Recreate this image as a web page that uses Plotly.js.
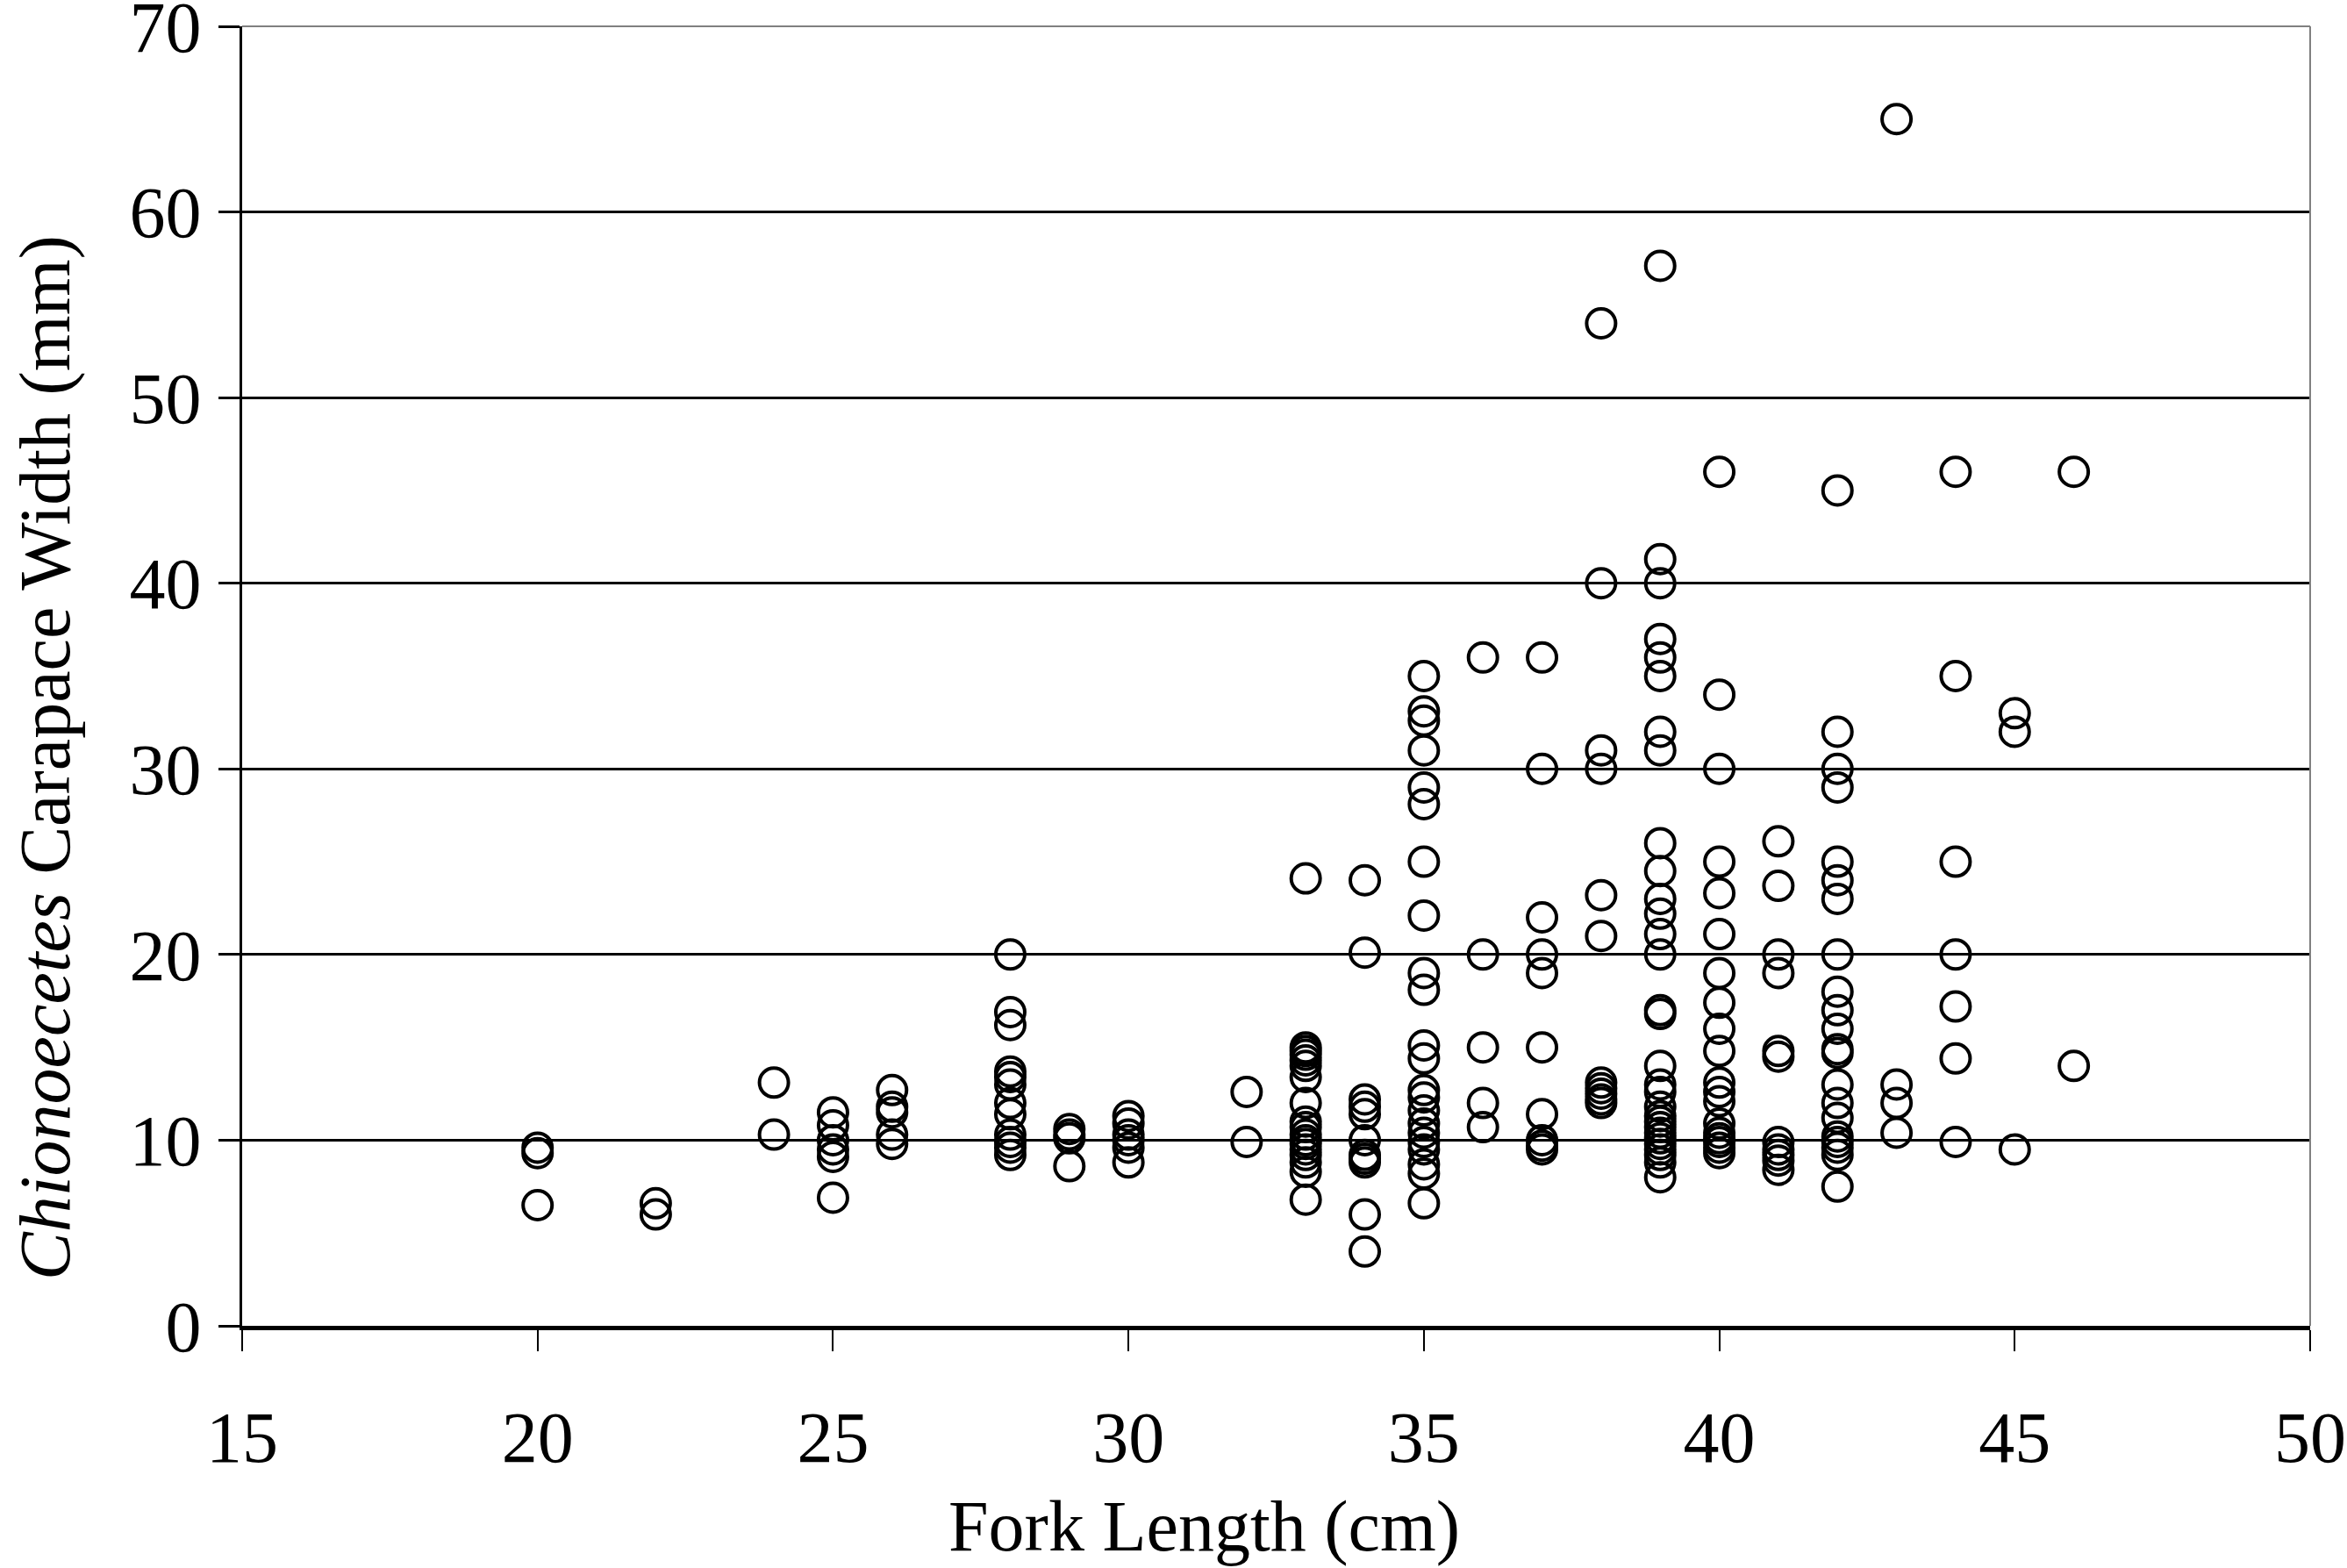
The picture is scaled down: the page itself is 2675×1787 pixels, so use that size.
<!DOCTYPE html>
<html>
<head>
<meta charset="utf-8">
<script src="https://cdn.plot.ly/plotly-3.0.1.min.js"></script>
<style>html,body{margin:0;padding:0;background:#fff;}#chart{width:2675px;height:1787px;}</style>
</head>
<body>
<div id="chart"></div>
<script>
// Fork length (cm) of each fish, paired with the carapace width (mm) of the crab found
const forkLength = [
  20,20,20,
  22,22,
  24,24,
  25,25,25,25,25,25,
  26,26,26,26,26,
  28,28,28,28,28,28,28,28,28,28,28,28,
  29,29,29,29,
  30,30,30,30,30,30,
  32,32,
  33,33,33,33,33,33,33,33,33,33,33,33,33,33,33,33,33,33,
  34,34,34,34,34,34,34,34,34,34,34,
  35,35,35,35,35,35,35,35,35,35,35,35,35,35,35,35,35,35,35,35,35,35,
  36,36,36,36,36,
  37,37,37,37,37,37,37,37,37,37,
  38,38,38,38,38,38,38,38,38,38,38,
  39,39,39,39,39,39,39,39,39,39,39,39,39,39,39,39,39,39,39,39,39,39,39,39,39,39,39,39,39,39,
  40,40,40,40,40,40,40,40,40,40,40,40,40,40,40,40,40,40,40,
  41,41,41,41,41,41,41,41,41,41,41,
  42,42,42,42,42,42,42,42,42,42,42,42,42,42,42,42,42,42,42,42,42,
  43,43,43,43,
  44,44,44,44,44,44,44,
  45,45,45,
  46,46
];
const carapaceWidth = [
  9.6,9.3,6.5,
  6.6,6.0,
  13.1,10.3,
  11.5,10.8,10.0,9.5,9.1,6.9,
  12.7,11.8,11.5,10.3,9.8,
  20.0,16.9,16.2,13.7,13.4,13.0,12.0,11.4,10.3,9.9,9.6,9.2,
  10.6,10.3,10.1,8.6,
  11.3,10.9,10.3,10.0,9.6,8.8,
  12.6,9.9,
  24.1,15.0,14.8,14.6,14.3,14.0,13.4,12.0,11.0,10.7,10.3,10.0,9.8,9.5,9.2,8.8,8.3,6.8,
  24.0,20.1,12.2,11.8,11.4,10.0,9.2,9.0,8.8,6.0,4.0,
  35.0,33.1,32.6,31.0,29.0,28.1,25.0,22.1,19.0,18.1,15.1,14.4,12.7,12.3,11.6,10.9,10.4,9.9,9.5,8.7,8.2,6.6,
  36.0,20.0,15.0,12.0,10.7,
  36.0,30.0,22.0,20.0,19.0,15.0,11.4,10.0,9.7,9.5,
  54.0,40.0,31.0,30.0,23.2,21.0,13.1,12.8,12.5,12.2,12.0,
  57.1,41.3,40.0,37.0,36.0,35.0,32.0,31.0,26.0,24.5,23.0,22.2,21.1,20.0,17.0,16.8,14.0,13.0,12.6,11.8,11.3,11.0,10.7,10.4,10.1,9.8,9.5,9.2,8.8,8.0,
  46.0,34.0,30.0,25.0,23.3,21.1,19.0,17.4,16.0,14.8,13.1,12.6,12.1,10.9,10.4,10.1,9.9,9.6,9.3,
  26.1,23.7,20.0,19.0,14.8,14.5,9.9,9.5,9.2,8.9,8.4,
  45.0,32.0,30.0,29.0,25.0,24.0,23.0,20.0,18.0,17.0,16.0,14.9,14.7,13.0,12.0,11.2,10.2,9.9,9.6,9.2,7.5,
  65.0,13.0,12.0,10.4,
  46.0,35.0,25.0,20.0,17.2,14.4,9.9,
  33.0,32.0,9.5,
  46.0,14.0
];
const xTicks = [15, 20, 25, 30, 35, 40, 45, 50];
const yTicks = [0, 10, 20, 30, 40, 50, 60, 70];
const xTitle = 'Fork Length (cm)';
const yTitle = '<i>Chionoecetes</i> Carapace Width (mm)';

const serif = 'Liberation Serif, Times New Roman, serif';

const trace = {
  x: forkLength,
  y: carapaceWidth,
  type: 'scatter',
  mode: 'markers',
  marker: {symbol: 'circle-open', size: 33, color: '#000', line: {width: 4, color: '#000'}},
  hoverinfo: 'x+y',
  showlegend: false,
  cliponaxis: false
};

const layout = {
  width: 2675,
  height: 1787,
  margin: {l: 276, r: 42, t: 30, b: 276, pad: 0},
  paper_bgcolor: '#fff',
  plot_bgcolor: '#fff',
  font: {family: serif, color: '#000', size: 80},
  xaxis: {
    range: [15, 50],
    tickvals: xTicks,
    ticktext: xTicks.map(String),
    showgrid: false,
    zeroline: false,
    showline: true,
    linecolor: '#000',
    linewidth: 5,
    ticks: 'outside',
    ticklen: 24,
    tickwidth: 2,
    tickcolor: '#000',
    ticklabelstandoff: 28,
    ticklabeloverflow: 'allow',
    tickfont: {family: serif, size: 82, color: '#000'}
  },
  yaxis: {
    range: [0, 70],
    tickvals: yTicks,
    ticktext: yTicks.map(String),
    showgrid: true,
    gridcolor: '#000',
    gridwidth: 3,
    zeroline: false,
    showline: true,
    linecolor: '#000',
    linewidth: 3,
    ticks: 'outside',
    ticklen: 24,
    tickwidth: 3,
    tickcolor: '#000',
    ticklabelstandoff: 3,
    ticklabeloverflow: 'allow',
    tickfont: {family: serif, size: 82, color: '#000'}
  },
  shapes: [
    {type: 'line', xref: 'paper', yref: 'paper', x0: 0, x1: 1, y0: 1, y1: 1, line: {color: '#808080', width: 2}},
    {type: 'line', xref: 'paper', yref: 'paper', x0: 1, x1: 1, y0: 0, y1: 1, line: {color: '#808080', width: 2}}
  ],
  annotations: [
    {text: xTitle, xref: 'paper', yref: 'paper', x: 0.465, y: -0.154, xanchor: 'center', yanchor: 'middle',
     showarrow: false, font: {family: serif, size: 82, color: '#000'}},
    {text: yTitle, xref: 'paper', yref: 'paper', x: -0.095, y: 0.437, xanchor: 'center', yanchor: 'middle',
     textangle: -90, showarrow: false, font: {family: serif, size: 82, color: '#000'}}
  ]
};

Plotly.newPlot('chart', [trace], layout, {displayModeBar: false, staticPlot: true});
</script>
</body>
</html>
